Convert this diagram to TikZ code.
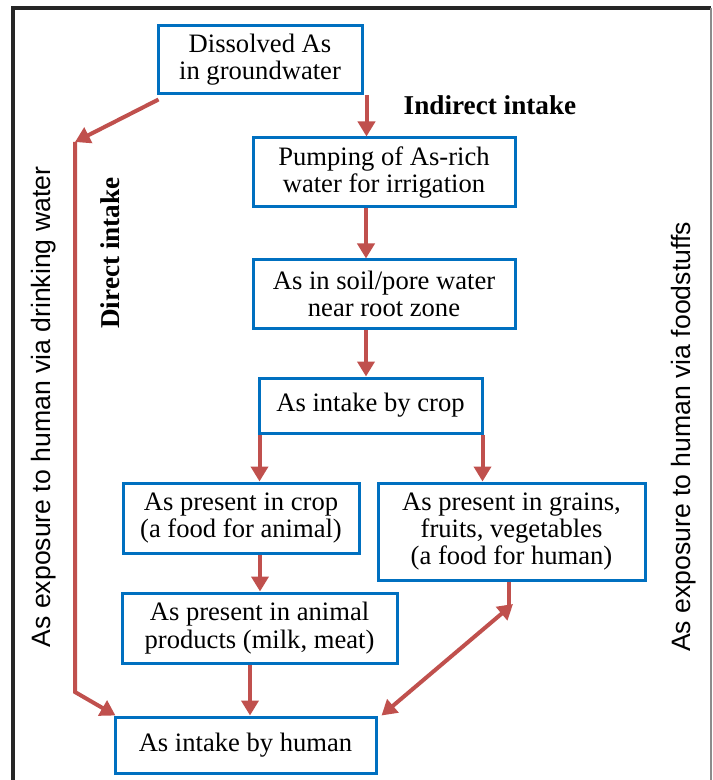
\documentclass[tikz,border=0pt]{standalone}
\usepackage{fontspec}
\setmainfont{Liberation Serif}
\newfontfamily\sansf{Liberation Sans}
\usetikzlibrary{arrows.meta,calc}
\definecolor{boxblue}{RGB}{0,112,192}
\definecolor{arrred}{RGB}{192,80,77}
\begin{document}
\begin{tikzpicture}[x=0.5pt,y=-0.5pt,
  box/.style={draw=boxblue, line width=1.5pt, align=center, inner sep=0pt,
    font=\fontsize{13.3}{13.6}\selectfont},
  redline/.style={draw=arrred, line width=2pt},
  arr/.style={redline, -{Triangle[width=8.5pt,length=7.5pt]}},
  darr/.style={redline, {Triangle[width=8.5pt,length=7.5pt]}-{Triangle[width=8.5pt,length=7.5pt]}},
  sidelabel/.style={font=\sansf\fontsize{13.3}{14}\selectfont, inner sep=0pt, rotate=90},
  boldlabel/.style={font=\bfseries\fontsize{13.6}{14}\selectfont, inner sep=0pt}]
\useasboundingbox (0,0) rectangle (712,780);
\fill[white] (0,0) rectangle (712,780);
% frame
\draw[line width=1.8pt, black!85] (13,780) -- (13,8) -- (711,8);
\draw[line width=1pt, black!45] (711,8) -- (711,780);

% boxes
\node[box, minimum width=102pt, minimum height=34pt] (b1) at (260,60) {Dissolved As\\in groundwater};
\node[box, minimum width=131pt, minimum height=34.5pt] (b2) at (384,172.5) {Pumping of As-rich\\water for irrigation};
\node[box, minimum width=131pt, minimum height=34pt] (b3) at (384,294) {As in soil/pore water\\near root zone};
\node[box, minimum width=111.5pt, minimum height=27.5pt] (b4) at (370.5,405.5) {As intake by crop};
\node[box, minimum width=118pt, minimum height=35pt] (b5) at (241,518) {As present in crop\\(a food for animal)};
\node[box, minimum width=133.5pt, minimum height=48.5pt] (b6) at (511.5,531.5) {As present in grains,\\fruits, vegetables\\(a food for human)};
\node[box, minimum width=137.5pt, minimum height=35pt] (b7) at (259.5,628) {As present in animal\\products (milk, meat)};
\node[box, minimum width=130.5pt, minimum height=28pt] (b8) at (245.5,745) {As intake by human};

% labels
\node[sidelabel] (l1) at (44,407) {As exposure to human via drinking water};
\node[sidelabel] (l2) at (684,437) {As exposure to human via foodstuffs};
\node[boldlabel, rotate=90] (l3) at (110,253) {Direct intake};
\node[boldlabel] (l4) at (490,105) {Indirect intake};

% helper coordinates
\coordinate (lt) at (75,142);
\coordinate (lb) at (75,692);
\coordinate (rj) at (509,607);
\coordinate (rt) at (513,604);
\coordinate (s1) at ($(b1.south west)+(2,4)$);
\coordinate (a1) at ($(b1.south east)+(3,0)$);
\coordinate (a2) at ($(b2.south)+(-18,0)$);
\coordinate (a3) at ($(b3.south)+(-18,0)$);
\coordinate (a4) at ($(b4.south west)+(2,0)$);
\coordinate (a5) at ($(b4.south east)+(-1,0)$);
\coordinate (a6) at ($(b5.south)+(19,0)$);
\coordinate (a7) at ($(b7.south)+(-9.5,0)$);
\coordinate (a8) at ($(b6.south)+(-2.5,0)$);
\coordinate (r8) at ($(b8.north east)+(4,0)$);
\coordinate (l8) at ($(b8.north west)+(2,0)$);

% connectors
\draw[arr] (s1) -- (lt);
\draw[arr] (lt) -- (lb) -- (l8);
\draw[arr] (a1) -- (a1 |- b2.north);
\draw[arr] (a2) -- (a2 |- b3.north);
\draw[arr] (a3) -- (a3 |- b4.north);
\draw[arr] (a4) -- (a4 |- b5.north);
\draw[arr] (a5) -- (a5 |- b6.north);
\draw[arr] (a6) -- (a6 |- b7.north);
\draw[arr] (a7) -- (a7 |- b8.north);
\draw[redline] (a8) -- (rj);
\draw[darr] (rt) -- (r8);
\end{tikzpicture}
\end{document}
